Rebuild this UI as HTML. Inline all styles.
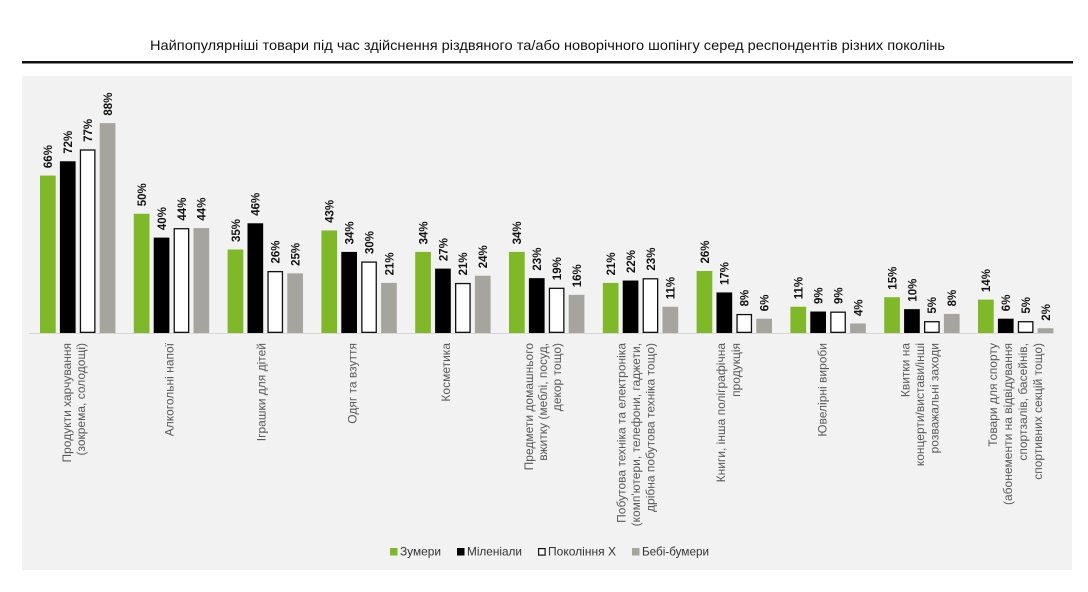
<!DOCTYPE html>
<html>
<head>
<meta charset="utf-8">
<style>
  html,body{margin:0;padding:0;background:#ffffff;}
  svg{display:block;}
  .t{font-family:"Liberation Sans",sans-serif;font-size:14px;fill:#111;}
  .v{font-family:"Liberation Sans",sans-serif;font-size:11.5px;font-weight:bold;fill:#111;}
  .c{font-family:"Liberation Sans",sans-serif;font-size:12px;fill:#595959;}
  .l{font-family:"Liberation Sans",sans-serif;font-size:12px;fill:#333;}
</style>
</head>
<body>
<svg width="1088" height="592" viewBox="0 0 1088 592" xmlns="http://www.w3.org/2000/svg">
  <rect x="0" y="0" width="1088" height="592" fill="#ffffff"/>
  <text class="t" x="547.5" y="50" text-anchor="middle" textLength="795" lengthAdjust="spacingAndGlyphs">Найпопулярніші товари під час здійснення різдвяного та/або новорічного шопінгу серед респондентів різних поколінь</text>
  <rect x="22" y="61" width="1051" height="2.5" fill="#111"/>
  <rect x="22" y="76" width="1050" height="494" fill="#f2f2f2"/>
  <rect x="29" y="333" width="1025" height="1" fill="#d6d6d6"/>

  <!-- group 0 -->
  <g transform="translate(40,0)">
    <rect x="0" y="175.59" width="15.7" height="157.41" fill="#80b927"/>
    <rect x="19.9" y="161.28" width="15.7" height="171.72" fill="#000"/>
    <rect x="40.45" y="150" width="14.4" height="182.35" fill="#fff" stroke="#111" stroke-width="1.3"/>
    <rect x="59.7" y="123.12" width="15.7" height="209.88" fill="#a6a49f"/>
    <text class="v" transform="translate(12.2,168.1) rotate(-90)">66%</text>
    <text class="v" transform="translate(32.1,153.8) rotate(-90)">72%</text>
    <text class="v" transform="translate(52,141.9) rotate(-90)">77%</text>
    <text class="v" transform="translate(71.9,115.6) rotate(-90)">88%</text>
    <text class="c" text-anchor="end" transform="translate(31,343) rotate(-90)">Продукти харчування</text>
    <text class="c" text-anchor="end" transform="translate(45,343) rotate(-90)">(зокрема, солодощі)</text>
  </g>

  <!-- group 1 -->
  <g transform="translate(133.8,0)">
    <rect x="0" y="213.75" width="15.7" height="119.25" fill="#80b927"/>
    <rect x="19.9" y="237.6" width="15.7" height="95.4" fill="#000"/>
    <rect x="40.45" y="228.71" width="14.4" height="103.64" fill="#fff" stroke="#111" stroke-width="1.3"/>
    <rect x="59.7" y="228.06" width="15.7" height="104.94" fill="#a6a49f"/>
    <text class="v" transform="translate(12.2,206.3) rotate(-90)">50%</text>
    <text class="v" transform="translate(32.1,230.1) rotate(-90)">40%</text>
    <text class="v" transform="translate(52,220.6) rotate(-90)">44%</text>
    <text class="v" transform="translate(71.9,220.6) rotate(-90)">44%</text>
    <text class="c" text-anchor="end" transform="translate(39.5,343) rotate(-90)">Алкогольні напої</text>
  </g>

  <!-- group 2 -->
  <g transform="translate(227.6,0)">
    <rect x="0" y="249.52" width="15.7" height="83.48" fill="#80b927"/>
    <rect x="19.9" y="223.29" width="15.7" height="109.71" fill="#000"/>
    <rect x="40.45" y="271.64" width="14.4" height="60.71" fill="#fff" stroke="#111" stroke-width="1.3"/>
    <rect x="59.7" y="273.37" width="15.7" height="59.63" fill="#a6a49f"/>
    <text class="v" transform="translate(12.2,242) rotate(-90)">35%</text>
    <text class="v" transform="translate(32.1,215.8) rotate(-90)">46%</text>
    <text class="v" transform="translate(52,263.5) rotate(-90)">26%</text>
    <text class="v" transform="translate(71.9,265.9) rotate(-90)">25%</text>
    <text class="c" text-anchor="end" transform="translate(38,343) rotate(-90)">Іграшки для дітей</text>
  </g>

  <!-- group 3 -->
  <g transform="translate(321.4,0)">
    <rect x="0" y="230.44" width="15.7" height="102.56" fill="#80b927"/>
    <rect x="19.9" y="251.91" width="15.7" height="81.09" fill="#000"/>
    <rect x="40.45" y="262.1" width="14.4" height="70.25" fill="#fff" stroke="#111" stroke-width="1.3"/>
    <rect x="59.7" y="282.91" width="15.7" height="50.09" fill="#a6a49f"/>
    <text class="v" transform="translate(12.2,222.9) rotate(-90)">43%</text>
    <text class="v" transform="translate(32.1,244.4) rotate(-90)">34%</text>
    <text class="v" transform="translate(52,254) rotate(-90)">30%</text>
    <text class="v" transform="translate(71.9,275.4) rotate(-90)">21%</text>
    <text class="c" text-anchor="end" transform="translate(35,343) rotate(-90)">Одяг та взуття</text>
  </g>

  <!-- group 4 -->
  <g transform="translate(415.2,0)">
    <rect x="0" y="251.91" width="15.7" height="81.09" fill="#80b927"/>
    <rect x="19.9" y="268.6" width="15.7" height="64.4" fill="#000"/>
    <rect x="40.45" y="283.56" width="14.4" height="48.79" fill="#fff" stroke="#111" stroke-width="1.3"/>
    <rect x="59.7" y="275.76" width="15.7" height="57.24" fill="#a6a49f"/>
    <text class="v" transform="translate(12.2,244.4) rotate(-90)">34%</text>
    <text class="v" transform="translate(32.1,261.1) rotate(-90)">27%</text>
    <text class="v" transform="translate(52,275.4) rotate(-90)">21%</text>
    <text class="v" transform="translate(71.9,268.3) rotate(-90)">24%</text>
    <text class="c" text-anchor="end" transform="translate(35,343) rotate(-90)">Косметика</text>
  </g>

  <!-- group 5 -->
  <g transform="translate(509,0)">
    <rect x="0" y="251.91" width="15.7" height="81.09" fill="#80b927"/>
    <rect x="19.9" y="278.14" width="15.7" height="54.86" fill="#000"/>
    <rect x="40.45" y="288.33" width="14.4" height="44.02" fill="#fff" stroke="#111" stroke-width="1.3"/>
    <rect x="59.7" y="294.84" width="15.7" height="38.16" fill="#a6a49f"/>
    <text class="v" transform="translate(12.2,244.4) rotate(-90)">34%</text>
    <text class="v" transform="translate(32.1,270.6) rotate(-90)">23%</text>
    <text class="v" transform="translate(52,280.2) rotate(-90)">19%</text>
    <text class="v" transform="translate(71.9,287.3) rotate(-90)">16%</text>
    <text class="c" text-anchor="end" transform="translate(24,343) rotate(-90)">Предмети домашнього</text>
    <text class="c" text-anchor="end" transform="translate(38,343) rotate(-90)">вжитку (меблі, посуд,</text>
    <text class="c" text-anchor="end" transform="translate(52,343) rotate(-90)">декор тощо)</text>
  </g>

  <!-- group 6 -->
  <g transform="translate(602.8,0)">
    <rect x="0" y="282.91" width="15.7" height="50.09" fill="#80b927"/>
    <rect x="19.9" y="280.53" width="15.7" height="52.47" fill="#000"/>
    <rect x="40.45" y="278.79" width="14.4" height="53.56" fill="#fff" stroke="#111" stroke-width="1.3"/>
    <rect x="59.7" y="306.76" width="15.7" height="26.24" fill="#a6a49f"/>
    <text class="v" transform="translate(12.2,275.4) rotate(-90)">21%</text>
    <text class="v" transform="translate(32.1,273) rotate(-90)">22%</text>
    <text class="v" transform="translate(52,270.6) rotate(-90)">23%</text>
    <text class="v" transform="translate(71.9,299.3) rotate(-90)">11%</text>
    <text class="c" text-anchor="end" transform="translate(22.5,343) rotate(-90)">Побутова техніка та електроніка</text>
    <text class="c" text-anchor="end" transform="translate(37,343) rotate(-90)">(комп'ютери, телефони, гаджети,</text>
    <text class="c" text-anchor="end" transform="translate(51.5,343) rotate(-90)">дрібна побутова техніка тощо)</text>
  </g>

  <!-- group 7 -->
  <g transform="translate(696.6,0)">
    <rect x="0" y="270.99" width="15.7" height="62.01" fill="#80b927"/>
    <rect x="19.9" y="292.45" width="15.7" height="40.55" fill="#000"/>
    <rect x="40.45" y="314.57" width="14.4" height="17.78" fill="#fff" stroke="#111" stroke-width="1.3"/>
    <rect x="59.7" y="318.69" width="15.7" height="14.31" fill="#a6a49f"/>
    <text class="v" transform="translate(12.2,263.5) rotate(-90)">26%</text>
    <text class="v" transform="translate(32.1,285) rotate(-90)">17%</text>
    <text class="v" transform="translate(52,306.4) rotate(-90)">8%</text>
    <text class="v" transform="translate(71.9,311.2) rotate(-90)">6%</text>
    <text class="c" text-anchor="end" transform="translate(28.5,343) rotate(-90)">Книги, інша поліграфічна</text>
    <text class="c" text-anchor="end" transform="translate(43.5,343) rotate(-90)">продукція</text>
  </g>

  <!-- group 8 -->
  <g transform="translate(790.4,0)">
    <rect x="0" y="306.76" width="15.7" height="26.24" fill="#80b927"/>
    <rect x="19.9" y="311.53" width="15.7" height="21.47" fill="#000"/>
    <rect x="40.45" y="312.18" width="14.4" height="20.17" fill="#fff" stroke="#111" stroke-width="1.3"/>
    <rect x="59.7" y="323.46" width="15.7" height="9.54" fill="#a6a49f"/>
    <text class="v" transform="translate(12.2,299.3) rotate(-90)">11%</text>
    <text class="v" transform="translate(32.1,304) rotate(-90)">9%</text>
    <text class="v" transform="translate(52,304) rotate(-90)">9%</text>
    <text class="v" transform="translate(71.9,316) rotate(-90)">4%</text>
    <text class="c" text-anchor="end" transform="translate(36,343) rotate(-90)">Ювелірні вироби</text>
  </g>

  <!-- group 9 -->
  <g transform="translate(884.2,0)">
    <rect x="0" y="297.22" width="15.7" height="35.78" fill="#80b927"/>
    <rect x="19.9" y="309.15" width="15.7" height="23.85" fill="#000"/>
    <rect x="40.45" y="321.72" width="14.4" height="10.63" fill="#fff" stroke="#111" stroke-width="1.3"/>
    <rect x="59.7" y="313.92" width="15.7" height="19.08" fill="#a6a49f"/>
    <text class="v" transform="translate(12.2,289.7) rotate(-90)">15%</text>
    <text class="v" transform="translate(32.1,301.7) rotate(-90)">10%</text>
    <text class="v" transform="translate(52,313.6) rotate(-90)">5%</text>
    <text class="v" transform="translate(71.9,306.4) rotate(-90)">8%</text>
    <text class="c" text-anchor="end" transform="translate(25.5,343) rotate(-90)">Квитки на</text>
    <text class="c" text-anchor="end" transform="translate(40,343) rotate(-90)">концерти/вистави/інші</text>
    <text class="c" text-anchor="end" transform="translate(54.5,343) rotate(-90)">розважальні заходи</text>
  </g>

  <!-- group 10 -->
  <g transform="translate(978,0)">
    <rect x="0" y="299.61" width="15.7" height="33.39" fill="#80b927"/>
    <rect x="19.9" y="318.69" width="15.7" height="14.31" fill="#000"/>
    <rect x="40.45" y="321.72" width="14.4" height="10.63" fill="#fff" stroke="#111" stroke-width="1.3"/>
    <rect x="59.7" y="328.23" width="15.7" height="4.77" fill="#a6a49f"/>
    <text class="v" transform="translate(12.2,292.1) rotate(-90)">14%</text>
    <text class="v" transform="translate(32.1,311.2) rotate(-90)">6%</text>
    <text class="v" transform="translate(52,313.6) rotate(-90)">5%</text>
    <text class="v" transform="translate(71.9,320.7) rotate(-90)">2%</text>
    <text class="c" text-anchor="end" transform="translate(19,343) rotate(-90)">Товари для спорту</text>
    <text class="c" text-anchor="end" transform="translate(34,343) rotate(-90)">(абонементи на відвідування</text>
    <text class="c" text-anchor="end" transform="translate(49,343) rotate(-90)">спортзалів, басейнів,</text>
    <text class="c" text-anchor="end" transform="translate(64,343) rotate(-90)">спортивних секцій тощо)</text>
  </g>

  <!-- legend -->
  <rect x="390" y="548" width="7.5" height="7.5" fill="#80b927"/>
  <text class="l" x="400" y="555.5" textLength="41" lengthAdjust="spacingAndGlyphs">Зумери</text>
  <rect x="457" y="548" width="7.5" height="7.5" fill="#000"/>
  <text class="l" x="467" y="555.5" textLength="55" lengthAdjust="spacingAndGlyphs">Міленіали</text>
  <rect x="538.6" y="548.6" width="6.5" height="6.5" fill="#fff" stroke="#111" stroke-width="1.2"/>
  <text class="l" x="548" y="555.5" textLength="68" lengthAdjust="spacingAndGlyphs">Покоління Х</text>
  <rect x="632" y="548" width="7.5" height="7.5" fill="#a6a49f"/>
  <text class="l" x="642" y="555.5" textLength="67" lengthAdjust="spacingAndGlyphs">Бебі-бумери</text>
</svg>
</body>
</html>
